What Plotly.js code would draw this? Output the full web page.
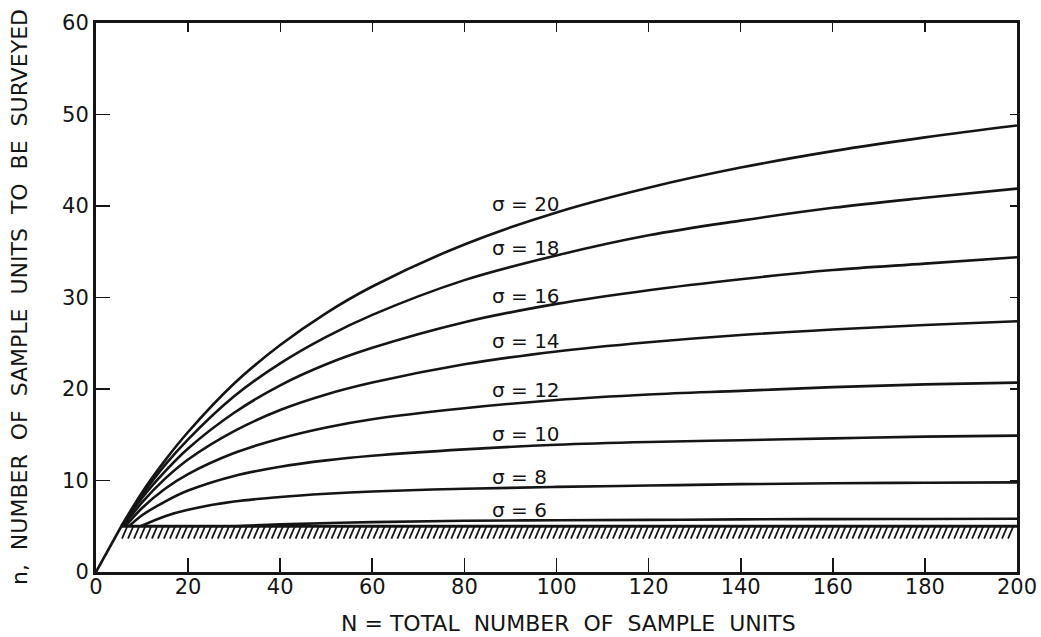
<!DOCTYPE html>
<html>
<head>
<meta charset="utf-8">
<script src="https://cdn.plot.ly/plotly-3.0.1.min.js"></script>
<style>
  html, body { margin: 0; padding: 0; background: #ffffff; }
  #chart { width: 1041px; height: 637px; }
</style>
</head>
<body>
<div id="chart"></div>
<script>
// ---- Data ----
const sigmas = [20, 18, 16, 14, 12, 10, 8, 6];

const commonStartN = [0, 5.5];
const commonStartn = [0, 5.0];

const N_s20 = [5.5, 10, 15, 20, 30, 40, 50, 60, 80, 100, 120, 140, 160, 180, 200];
const n_s20 = [5.0, 8.7, 12.2, 15.3, 20.6, 24.8, 28.3, 31.2, 35.8, 39.3, 42.0, 44.2, 46.0, 47.5, 48.8];

const N_s18 = [5.5, 10, 15, 20, 30, 40, 50, 60, 80, 100, 120, 140, 160, 180, 200];
const n_s18 = [5.0, 8.4, 11.7, 14.5, 19.2, 22.8, 25.7, 28.1, 31.9, 34.6, 36.8, 38.4, 39.8, 40.9, 41.9];

const N_s16 = [5.6, 10, 15, 20, 30, 40, 50, 60, 80, 100, 120, 140, 160, 180, 200];
const n_s16 = [5.0, 8.1, 11.0, 13.5, 17.4, 20.4, 22.7, 24.5, 27.3, 29.3, 30.8, 32.0, 33.0, 33.7, 34.4];

const N_s14 = [5.9, 10, 15, 20, 30, 40, 50, 60, 80, 100, 120, 140, 160, 180, 200];
const n_s14 = [5.0, 7.6, 10.2, 12.3, 15.4, 17.7, 19.4, 20.7, 22.7, 24.1, 25.1, 25.9, 26.5, 27.0, 27.4];

const N_s12 = [6.4, 10, 15, 20, 30, 40, 50, 60, 80, 100, 120, 140, 160, 180, 200];
const n_s12 = [5.0, 7.0, 9.1, 10.7, 13.0, 14.6, 15.8, 16.7, 17.9, 18.8, 19.4, 19.8, 20.2, 20.5, 20.7];

const N_s10 = [7.2, 10, 15, 20, 30, 40, 50, 60, 80, 100, 120, 140, 160, 180, 200];
const n_s10 = [5.0, 6.2, 7.7, 8.9, 10.5, 11.5, 12.2, 12.7, 13.4, 13.9, 14.2, 14.4, 14.6, 14.8, 14.9];

const N_s8 = [9.7, 15, 20, 30, 40, 50, 60, 80, 100, 120, 140, 160, 180, 200];
const n_s8 = [5.0, 6.1, 6.8, 7.7, 8.2, 8.55, 8.8, 9.1, 9.3, 9.45, 9.6, 9.7, 9.75, 9.8];

const N_s6 = [30, 40, 60, 80, 100, 120, 140, 160, 180, 200];
const n_s6 = [5.0, 5.2, 5.45, 5.6, 5.65, 5.7, 5.75, 5.78, 5.8, 5.82];

const minLineN = [5.5, 200];
const minLinen = [5, 5];

const labelTexts = ['σ = 20', 'σ = 18', 'σ = 16', 'σ = 14', 'σ = 12', 'σ = 10', 'σ = 8', 'σ = 6'];
const labelN = [85.5, 85.5, 85.5, 85.5, 85.5, 85.5, 85.5, 85.5];
const labeln = [40.2, 35.4, 30.2, 25.3, 19.9, 15.1, 10.4, 6.8];

const xTicks = [0, 20, 40, 60, 80, 100, 120, 140, 160, 180, 200];
const xTickText = ['0', '20', '40', '60', '80', '100', '120', '140', '160', '180', '200'];
const yTicks = [0, 10, 20, 30, 40, 50, 60];
const yTickText = ['0', '10', '20', '30', '40', '50', '60'];

const xTitle = 'N = TOTAL&nbsp; NUMBER&nbsp; OF&nbsp; SAMPLE&nbsp; UNITS';
const yTitle = 'n,&nbsp; NUMBER&nbsp; OF&nbsp; SAMPLE&nbsp; UNITS&nbsp; TO&nbsp; BE&nbsp; SURVEYED';

// ---- Build traces ----
const INK = '#151515';
const FONT = 'DejaVu Sans, sans-serif';

const curveSets = [
  [N_s20, n_s20], [N_s18, n_s18], [N_s16, n_s16], [N_s14, n_s14],
  [N_s12, n_s12], [N_s10, n_s10], [N_s8, n_s8], [N_s6, n_s6]
];

const traces = [];

traces.push({
  x: commonStartN, y: commonStartn, mode: 'lines',
  line: { color: INK, width: 2.6 }, hoverinfo: 'skip', showlegend: false
});

curveSets.forEach((c, i) => {
  traces.push({
    x: c[0], y: c[1], mode: 'lines', name: 'σ = ' + sigmas[i],
    line: { color: INK, width: 2.6, shape: 'spline', smoothing: 1.0 },
    showlegend: false
  });
});

// minimum sample line (n = 5) with hatching below it
traces.push({
  x: minLineN, y: minLinen, mode: 'lines',
  line: { color: INK, width: 3 }, hoverinfo: 'skip', showlegend: false
});

const hx = [], hy = [];
const y0 = minLinen[0];
for (let xv = minLineN[0] + 1.3; xv <= minLineN[1] - 0.2; xv += 1.3) {
  hx.push(xv, xv - 1.15, null);
  hy.push(y0, y0 - 1.35, null);
}
traces.push({
  x: hx, y: hy, mode: 'lines', connectgaps: false,
  line: { color: INK, width: 1.8 }, hoverinfo: 'skip', showlegend: false
});

// dummy trace for the mirrored (top/right) tick axes
traces.push({
  x: [0], y: [0], xaxis: 'x2', yaxis: 'y2', mode: 'markers',
  marker: { opacity: 0 }, hoverinfo: 'skip', showlegend: false
});

const annotations = labelTexts.map((t, i) => ({
  x: labelN[i], y: labeln[i], xref: 'x', yref: 'y',
  text: t, showarrow: false, xanchor: 'left', yanchor: 'middle',
  font: { family: FONT, size: 20, color: INK }
}));

annotations.push({
  xref: 'paper', yref: 'paper', x: 0.5125, y: -0.093,
  xanchor: 'center', yanchor: 'middle', showarrow: false,
  text: xTitle, font: { family: FONT, size: 22, color: INK }
});
annotations.push({
  xref: 'paper', yref: 'paper', x: -0.083, y: 0.5,
  xanchor: 'center', yanchor: 'middle', showarrow: false, textangle: -90,
  text: yTitle, font: { family: FONT, size: 22, color: INK }
});

const layout = {
  width: 1041, height: 637,
  margin: { l: 96, r: 24, t: 23, b: 65 },
  paper_bgcolor: '#ffffff', plot_bgcolor: '#ffffff',
  showlegend: false,
  font: { family: FONT, color: INK },
  xaxis: {
    range: [0, 200], tickvals: xTicks, ticktext: xTickText,
    ticks: 'inside', ticklen: 14, tickwidth: 1.6, tickcolor: INK,
    showline: true, linewidth: 3, linecolor: INK, mirror: true,
    showgrid: false, zeroline: false, ticklabelstandoff: -6,
    tickfont: { family: FONT, size: 21, color: INK },
    automargin: false
  },
  yaxis: {
    range: [0, 60], tickvals: yTicks, ticktext: yTickText,
    ticks: 'inside', ticklen: 14, tickwidth: 1.6, tickcolor: INK,
    showline: true, linewidth: 3, linecolor: INK, mirror: true,
    showgrid: false, zeroline: false,
    tickfont: { family: FONT, size: 21, color: INK },
    automargin: false
  },
  xaxis2: {
    overlaying: 'x', side: 'top', anchor: 'y', range: [0, 200],
    tickvals: [20, 40, 60, 80, 100, 120, 140, 160, 180],
    ticks: 'inside', ticklen: 9, tickwidth: 1.4, tickcolor: INK,
    showticklabels: false, showline: false, showgrid: false, zeroline: false
  },
  yaxis2: {
    overlaying: 'y', side: 'right', anchor: 'x', range: [0, 60],
    tickvals: [10, 20, 30, 40, 50],
    ticks: 'inside', ticklen: 7, tickwidth: 1.4, tickcolor: INK,
    showticklabels: false, showline: false, showgrid: false, zeroline: false
  },
  annotations: annotations
};

Plotly.newPlot('chart', traces, layout, { staticPlot: true, displayModeBar: false });
</script>
</body>
</html>
